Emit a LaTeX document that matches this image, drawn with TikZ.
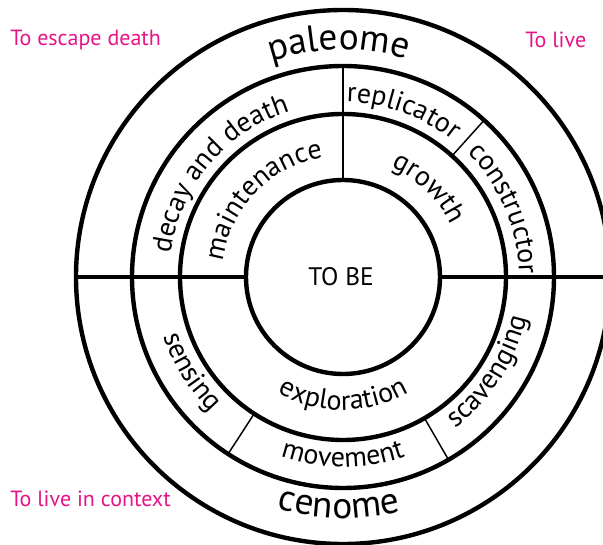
\documentclass[tikz,border=0pt]{standalone}
\usepackage{fontspec}
\setmainfont{PT Sans}
\usetikzlibrary{decorations.text}

\definecolor{lifepink}{RGB}{230,20,135}
\newcommand\ringfont{\fontsize{21}{25}\selectfont}
\newcommand\bigringfont{\fontsize{28}{33}\selectfont}

\tikzset{
  ring/.style={line width=3.3pt},
  divider/.style={line width=1.1pt},
  ringlabel/.style={decorate, decoration={text along path, text align=center, text={|\ringfont|#1}}},
  biglabel/.style={decorate, decoration={text along path, text align=center, text={|\bigringfont|#1}}},
  goal/.style={text=lifepink, font=\fontsize{16.5}{19}\selectfont, anchor=base west, inner sep=0pt},
}

\begin{document}
\begin{tikzpicture}[x=0.75pt, y=0.75pt]
  \useasboundingbox (-343,-268) rectangle (260,277);

  % sector dividers
  \draw[divider] (90:97) -- (90:211);
  \draw[divider] (48:163) -- (48:211);
  \draw[divider] (237:163) -- (237:211);
  \draw[divider] (300:163) -- (300:211);

  % rings
  \draw[ring] (0,0) circle (267);
  \draw[ring] (0,0) circle (211);
  \draw[ring] (0,0) circle (163);
  \draw[ring] (0,0) circle (97);
  \draw[ring] (-267,0) -- (-97,0);
  \draw[ring] (97,0) -- (260,0);

  % upper half, read clockwise
  \path[biglabel=paleome] (151:227) arc[start angle=151, end angle=31, radius=227];
  \path[ringlabel=decay and death] (200:174) arc[start angle=200, end angle=80, radius=174];
  \path[ringlabel=replicator] (100:175) arc[start angle=100, end angle=40, radius=175];
  \path[ringlabel=constructor] (58:176) arc[start angle=58, end angle=-12, radius=176];
  \path[ringlabel=maintenance] (186:121) arc[start angle=186, end angle=86, radius=121];
  \path[ringlabel=growth] (86:120) arc[start angle=86, end angle=6, radius=120];

  % lower half, read counterclockwise
  \path[ringlabel=sensing] (172:189) arc[start angle=172, end angle=252, radius=189];
  \path[ringlabel=movement] (230:190) arc[start angle=230, end angle=310, radius=190];
  \path[ringlabel=scavenging] (287:188) arc[start angle=287, end angle=367, radius=188];
  \path[ringlabel=exploration] (220:133) arc[start angle=220, end angle=320, radius=133];
  \path[biglabel=cenome] (209:241) arc[start angle=209, end angle=329, radius=241];

  \node (core) at (-2,0) {\fontsize{19}{23}\selectfont TO BE};

  \node[goal] (escape) at (-333,231) {To escape death};
  \node[goal] (live) at (182,229) {To live};
  \node[goal] (context) at (-333,-230) {To live in context};
\end{tikzpicture}
\end{document}
